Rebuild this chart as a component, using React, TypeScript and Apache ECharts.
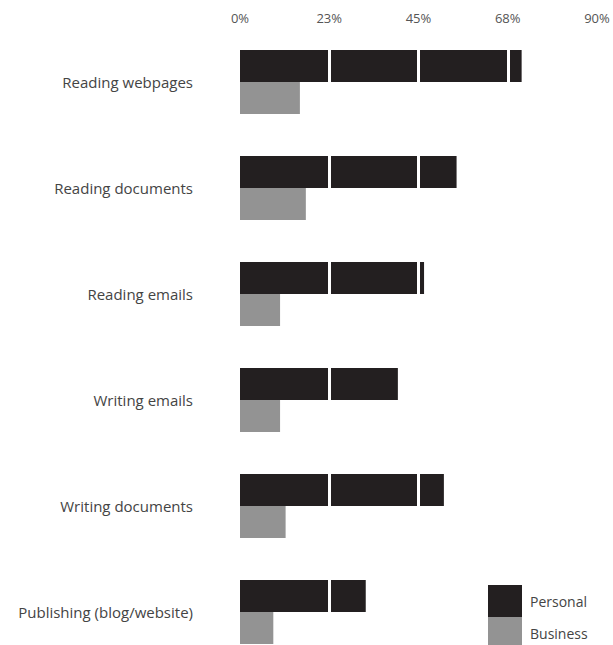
import React, { useEffect, useRef } from "react";
import * as echarts from "echarts";

const categories = [
  "Reading webpages",
  "Reading documents",
  "Reading emails",
  "Writing emails",
  "Writing documents",
  "Publishing (blog/website)",
];
const personal = [71, 54.6, 46.4, 39.8, 51.4, 31.7];
const business = [15.1, 16.6, 10.1, 10.1, 11.5, 8.4];
const axisMax = 90;
const axisInterval = 22.5;

export default function App() {
  const ref = useRef<HTMLDivElement>(null);
  useEffect(() => {
    document.body.style.margin = "0";
    const chart = echarts.init(ref.current!, null, { renderer: "svg" });
    const font = "Open Sans";
    chart.setOption({
      animation: false,
      backgroundColor: "#ffffff",
      textStyle: { fontFamily: font },
      grid: {
        left: 240,
        right: 16,
        top: 29,
        height: 636,
        containLabel: false,
        outerBoundsMode: "none",
      },
      legend: {
        orient: "vertical",
        left: 488,
        top: 585,
        height: 100,
        itemWidth: 34,
        itemHeight: 32,
        itemGap: 0,
        icon: "rect",
        padding: 0,
        z: 10,
        textStyle: { color: "#444", fontSize: 14, fontFamily: font, padding: [0, 0, 0, 3] },
        data: ["Personal", "Business"],
      },
      xAxis: {
        type: "value",
        position: "top",
        min: 0,
        max: axisMax,
        interval: axisInterval,
        z: 3,
        axisLine: { show: false },
        axisTick: { show: false },
        axisLabel: {
          color: "#555",
          fontSize: 13,
          margin: 5,
          fontFamily: font,
          formatter: (v: number) => Math.round(v) + "%",
        },
        splitLine: {
          show: true,
          showMinLine: false,
          lineStyle: { color: "#ffffff", width: 3 },
        },
      },
      yAxis: {
        type: "category",
        data: categories,
        inverse: true,
        axisLine: { show: false },
        axisTick: { show: false },
        axisLabel: { color: "#444", fontSize: 15, margin: 47, fontFamily: font },
        splitLine: { show: false },
      },
      series: [
        {
          name: "Personal",
          type: "bar",
          data: personal,
          barWidth: 32,
          barGap: "0%",
          itemStyle: { color: "#231f20" },
        },
        {
          name: "Business",
          type: "bar",
          data: business,
          barWidth: 32,
          barGap: "0%",
          itemStyle: { color: "#939393" },
        },
      ],
    });
    return () => chart.dispose();
  }, []);
  return <div ref={ref} style={{ width: 613, height: 645 }} />;
}
